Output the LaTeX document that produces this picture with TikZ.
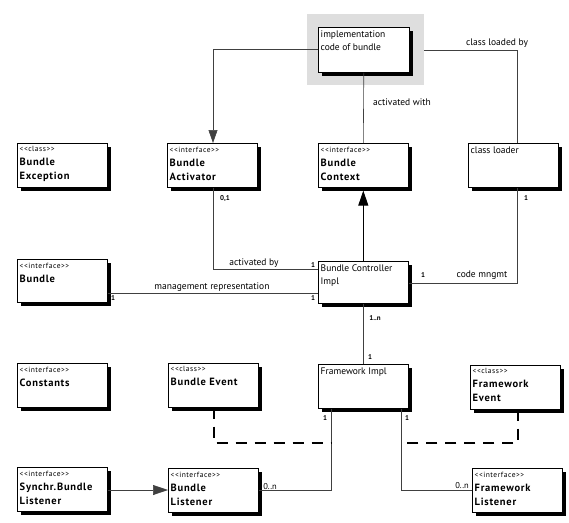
\documentclass[tikz,border=0pt]{standalone}
\usepackage{fontspec}
\setmainfont{PT Sans}
\usetikzlibrary{arrows.meta,shadows}
\newcommand\ster[1]{{\fontsize{7.5}{14}\mdseries<{}<#1>{}>}}
\tikzset{
  ubox/.style={draw=black, line width=0.6pt, fill=white, anchor=north west,
    minimum width=90pt, minimum height=44pt, inner sep=0pt,
    drop shadow={fill=black, opacity=1, shadow xshift=4pt, shadow yshift=-4pt}},
  txt/.style={anchor=north west, align=left, inner sep=2.5pt, yshift=-1pt,
    font=\fontsize{10.5}{14}\selectfont\bfseries\addfontfeature{LetterSpace=7}},
  ptxt/.style={anchor=north west, align=left, inner sep=2.5pt, yshift=-1.5pt,
    font=\fontsize{9.5}{13}\selectfont},
  conn/.style={draw=black!75, line width=0.6pt},
  dep/.style={draw=black, line width=1.1pt, dash pattern=on 11pt off 8pt},
  lab/.style={font=\fontsize{9.5}{11}\selectfont, inner sep=1pt},
  mul/.style={font=\fontsize{7}{8}\selectfont\bfseries, inner sep=1pt},
  nlab/.style={font=\fontsize{8.5}{9}\selectfont, inner sep=1pt},
  tri/.style={-{Triangle[length=13pt,width=9pt]}},
  btri/.style={-{Triangle[length=15pt,width=10pt]}}
}
\begin{document}
\begin{tikzpicture}[x=1pt,y=1pt]
\path[use as bounding box] (0,0) rectangle (569,-522);
% background for implementation
\node[fill=black!13, anchor=north west, minimum width=117pt, minimum height=71pt, inner sep=0pt] (bg) at (307,-14) {};
\node[ubox, minimum width=91pt, minimum height=45pt, label={[ptxt]north west:implementation\\code of bundle}] (impl) at (318,-27) {};
% row 1
\node[ubox, label={[txt]north west:\ster{class}\\Bundle\\Exception}] (BE) at (17,-143) {};
\node[ubox, label={[txt]north west:\ster{interface}\\Bundle\\Activator}] (BA) at (167,-143) {};
\node[ubox, label={[txt]north west:\ster{interface}\\Bundle\\Context}] (BC) at (318,-143) {};
\node[ubox, label={[ptxt]north west:class loader}] (CL) at (468,-143) {};
% row 2
\node[ubox, minimum height=43pt, label={[txt]north west:\ster{interface}\\Bundle}] (B) at (17,-259) {};
\node[ubox, minimum height=42pt, label={[ptxt]north west:Bundle Controller\\Impl}] (BCI) at (318,-261) {};
% row 3
\node[ubox, label={[txt]north west:\ster{interface}\\Constants}] (CO) at (17,-363) {};
\node[ubox, label={[txt]north west:\ster{class}\\Bundle Event}] (BEv) at (168,-363) {};
\node[ubox, label={[ptxt]north west:Framework Impl}] (FI) at (318,-364) {};
\node[ubox, label={[txt]north west:\ster{class}\\Framework\\Event}] (FE) at (470,-365) {};
% row 4
\node[ubox, label={[txt]north west:\ster{interface}\\Synchr.Bundle\\Listener}] (SBL) at (17,-467) {};
\node[ubox, label={[txt]north west:\ster{interface}\\Bundle\\Listener}] (BL) at (168,-468) {};
\node[ubox, label={[txt]north west:\ster{interface}\\Framework\\Listener}] (FL) at (472,-468) {};

% coordinates
\coordinate (c1) at (213,-49);
\coordinate (c2) at (517,-50);
\coordinate (c3) at (213,-269);
\coordinate (c4) at (517,-283);
\coordinate (c5) at (331,-490);
\coordinate (c6) at (401,-490);
\coordinate (c7) at (214,-443);
\coordinate (c8) at (331,-443);
\coordinate (c9) at (518,-443);
\coordinate (c10) at (401,-443);

% connectors
\draw[conn, tri] (impl.west |- c1) -- (c1) -- (BA.north -| c1);
\draw[conn] (impl.south) -- (BC.north);
\draw[conn] (bg.east |- c2) -- (c2) -- (CL.north -| c2);
\draw[conn, draw=black, line width=1pt, btri] (BCI.north) -- ([yshift=-3pt]BC.south);
\draw[conn] (BA.south -| c3) -- (c3) -- (BCI.west |- c3);
\draw[conn] (B.east |- 0,-293) -- (BCI.west |- 0,-293);
\draw[conn] (CL.south -| c4) -- (c4) -- (BCI.east |- c4);
\draw[conn] (BCI.south) -- (FI.north);
\draw[conn] (FI.south -| c5) -- (c5) -- (BL.east |- c5);
\draw[conn] (FI.south -| c6) -- (c6) -- (FL.west |- c6);
\draw[conn, btri] (SBL.east |- 0,-490) -- (BL.west |- 0,-490);
\draw[dep] (BEv.south -| c7) -- (c7) -- (c8);
\draw[dep] (FE.south -| c9) -- (c9) -- (c10);

% labels
\node[lab, anchor=west] (l1) at (372,-102) {activated with};
\node[lab] (l2) at (497,-43) {class loaded by};
\node[mul] (m1) at (225,-199) {0,1};
\node[lab] (l3) at (254,-263) {activated by};
\node[mul] (m2) at (313,-265) {1};
\node[lab] (l4) at (212,-287) {management representation};
\node[mul] (m3) at (113,-298) {1};
\node[mul] (m4) at (313,-298) {1};
\node[mul] (m5) at (526,-198) {1};
\node[mul] (m6) at (423,-275) {1};
\node[lab] (l5) at (482,-275) {code mngmt};
\node[mul] (m7) at (375,-318) {1..n};
\node[mul] (m8) at (370,-357) {1};
\node[mul] (m9) at (325,-418) {1};
\node[mul] (m10) at (407,-418) {1};
\node[nlab] (m11) at (270,-487) {0..n};
\node[nlab] (m12) at (462,-486) {0..n};
\end{tikzpicture}
\end{document}
